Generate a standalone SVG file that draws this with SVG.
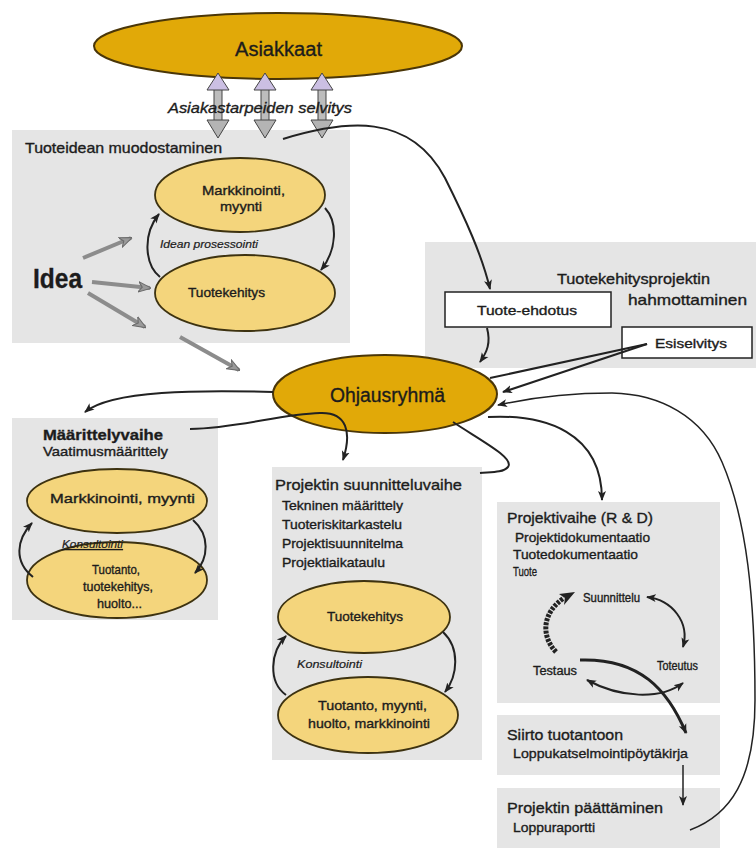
<svg xmlns="http://www.w3.org/2000/svg" width="756" height="848" viewBox="0 0 756 848">
  <style>
    text { font-family: "Liberation Sans", Arial, sans-serif; fill: #1c1c1c; stroke: #1c1c1c; stroke-width: 0.35; }
    .box { fill: #e5e5e5; }
    .wbox { fill: #ffffff; stroke: #222; stroke-width: 1.5; }
    .gold { fill: #e1a908; stroke: #4a3608; stroke-width: 2; }
    .pale { fill: #f4d57c; stroke: #3d3210; stroke-width: 1.8; }
    .t20 { font-size: 20px; }
    .t15 { font-size: 15px; }
    .t13 { font-size: 13px; }
    .t12 { font-size: 12px; }
    .it { font-size: 11px; font-style: italic; stroke-width: 0.2; }
    .ln { fill: none; stroke: #222; stroke-width: 2; }
    .thin { fill: none; stroke: #222; stroke-width: 1.5; }
    .gr { fill: none; stroke: #8c8c8c; stroke-width: 4; }
    .shaft { fill: #bdbdbd; stroke: #444; stroke-width: 1; }
    .headU { fill: #cbbfe3; stroke: #444; stroke-width: 1; }
    .headD { fill: #b4b4b4; stroke: #444; stroke-width: 1; }
  </style>
  <defs>
    <marker id="ah" viewBox="0 0 10 10" refX="9" refY="5" markerUnits="userSpaceOnUse" markerWidth="10" markerHeight="10" orient="auto-start-reverse">
      <path d="M0,1 L10,5 L0,9 L2.5,5 z" fill="#222"/>
    </marker>
    <marker id="ahg" viewBox="0 0 10 10" refX="9" refY="5" markerUnits="userSpaceOnUse" markerWidth="13" markerHeight="13" orient="auto">
      <path d="M0,1 L10,5 L0,9 L3,5 z" fill="#9a9a9a" stroke="#6a6a6a" stroke-width="0.8"/>
    </marker>
  </defs>

  <!-- customers -->
  <g id="asiakkaat">
    <ellipse class="gold" cx="278" cy="46" rx="184" ry="33"/>
    <text class="t20" x="235" y="56" textLength="87" lengthAdjust="spacingAndGlyphs">Asiakkaat</text>
  </g>

  <!-- idea formation stage -->
  <g id="tuoteidea">
    <rect class="box" x="12" y="130" width="338" height="213"/>
    <text class="t15" x="25" y="153" textLength="197" lengthAdjust="spacingAndGlyphs">Tuoteidean muodostaminen</text>
    <ellipse class="pale" cx="240" cy="195" rx="85" ry="37"/>
    <text class="t13" x="202" y="195" textLength="83" lengthAdjust="spacingAndGlyphs">Markkinointi,</text>
    <text class="t13" x="220" y="211" textLength="42" lengthAdjust="spacingAndGlyphs">myynti</text>
    <ellipse class="pale" cx="245" cy="293" rx="90" ry="38"/>
    <text class="t13" x="188" y="297" textLength="77" lengthAdjust="spacingAndGlyphs">Tuotekehitys</text>
    <text class="it" x="160" y="248" textLength="98" lengthAdjust="spacingAndGlyphs">Idean prosessointi</text>
    <text x="33" y="288" font-size="28" font-weight="bold" textLength="49" lengthAdjust="spacingAndGlyphs">Idea</text>
  </g>

  <!-- project outlining -->
  <g id="hahmottaminen">
    <rect class="box" x="425" y="242" width="331" height="126"/>
    <text class="t15" x="557" y="284" textLength="153" lengthAdjust="spacingAndGlyphs">Tuotekehitysprojektin</text>
    <text class="t15" x="628" y="305" textLength="119" lengthAdjust="spacingAndGlyphs">hahmottaminen</text>
  </g>
  <g id="tuote-ehdotus">
    <rect class="wbox" x="445" y="292" width="166" height="35"/>
    <text class="t13" x="477" y="315" textLength="100" lengthAdjust="spacingAndGlyphs">Tuote-ehdotus</text>
  </g>
  <g id="esiselvitys">
    <rect class="wbox" x="622" y="327" width="130" height="31"/>
    <text class="t13" x="655" y="348" textLength="72" lengthAdjust="spacingAndGlyphs">Esiselvitys</text>
  </g>

  <!-- steering group -->
  <g id="ohjausryhma">
    <ellipse class="gold" cx="385" cy="394" rx="112" ry="39"/>
    <text class="t20" x="330" y="402" textLength="115" lengthAdjust="spacingAndGlyphs">Ohjausryhmä</text>
  </g>

  <!-- definition stage -->
  <g id="maarittelyvaihe">
    <rect class="box" x="12" y="418" width="206" height="202"/>
    <text class="t15" x="43" y="440" font-weight="bold" textLength="120" lengthAdjust="spacingAndGlyphs">Määrittelyvaihe</text>
    <text class="t13" x="43" y="456" textLength="125" lengthAdjust="spacingAndGlyphs">Vaatimusmäärittely</text>
    <ellipse class="pale" cx="117" cy="501" rx="90" ry="32"/>
    <text class="t13" x="50" y="503" textLength="145" lengthAdjust="spacingAndGlyphs">Markkinointi, myynti</text>
    <ellipse class="pale" cx="117" cy="580" rx="90" ry="38"/>
    <text class="t13" x="92" y="574" textLength="48" lengthAdjust="spacingAndGlyphs">Tuotanto,</text>
    <text class="t13" x="83" y="591" textLength="70" lengthAdjust="spacingAndGlyphs">tuotekehitys,</text>
    <text class="t13" x="97" y="608" textLength="45" lengthAdjust="spacingAndGlyphs">huolto...</text>
    <text class="it" x="62" y="548" text-decoration="underline" textLength="61" lengthAdjust="spacingAndGlyphs">Konsultointi</text>
  </g>

  <!-- planning stage -->
  <g id="suunnitteluvaihe">
    <rect class="box" x="272" y="467" width="210" height="293"/>
    <text class="t15" x="275" y="490" textLength="187" lengthAdjust="spacingAndGlyphs">Projektin suunnitteluvaihe</text>
    <text class="t13" x="282" y="510" textLength="121" lengthAdjust="spacingAndGlyphs">Tekninen määrittely</text>
    <text class="t13" x="282" y="529" textLength="120" lengthAdjust="spacingAndGlyphs">Tuoteriskitarkastelu</text>
    <text class="t13" x="282" y="548" textLength="121" lengthAdjust="spacingAndGlyphs">Projektisuunnitelma</text>
    <text class="t13" x="282" y="567" textLength="103" lengthAdjust="spacingAndGlyphs">Projektiaikataulu</text>
    <ellipse class="pale" cx="364" cy="617" rx="86" ry="36"/>
    <text class="t13" x="327" y="621" textLength="76" lengthAdjust="spacingAndGlyphs">Tuotekehitys</text>
    <ellipse class="pale" cx="368" cy="715" rx="90" ry="38"/>
    <text class="t13" x="318" y="710" textLength="109" lengthAdjust="spacingAndGlyphs">Tuotanto, myynti,</text>
    <text class="t13" x="308" y="728" textLength="122" lengthAdjust="spacingAndGlyphs">huolto, markkinointi</text>
    <text class="it" x="297" y="668" textLength="65" lengthAdjust="spacingAndGlyphs">Konsultointi</text>
  </g>

  <!-- R&D stage -->
  <g id="projektivaihe">
    <rect class="box" x="497" y="502" width="223" height="201"/>
    <text class="t15" x="507" y="523" textLength="146" lengthAdjust="spacingAndGlyphs">Projektivaihe (R &amp; D)</text>
    <text class="t13" x="515" y="542" textLength="135" lengthAdjust="spacingAndGlyphs">Projektidokumentaatio</text>
    <text class="t13" x="513" y="559" textLength="125" lengthAdjust="spacingAndGlyphs">Tuotedokumentaatio</text>
    <text class="t13" x="513" y="576" textLength="24" lengthAdjust="spacingAndGlyphs">Tuote</text>
    <text class="t12" x="583" y="602" textLength="57" lengthAdjust="spacingAndGlyphs">Suunnittelu</text>
    <text class="t12" x="533" y="675" textLength="44" lengthAdjust="spacingAndGlyphs">Testaus</text>
    <text class="t12" x="657" y="670" textLength="41" lengthAdjust="spacingAndGlyphs">Toteutus</text>
  </g>

  <g id="siirto">
    <rect class="box" x="497" y="715" width="223" height="60"/>
    <text class="t15" x="507" y="740" textLength="116" lengthAdjust="spacingAndGlyphs">Siirto tuotantoon</text>
    <text class="t13" x="513" y="758" textLength="175" lengthAdjust="spacingAndGlyphs">Loppukatselmointipöytäkirja</text>
  </g>

  <g id="paattaminen">
    <rect class="box" x="497" y="788" width="223" height="60"/>
    <text class="t15" x="507" y="813" textLength="156" lengthAdjust="spacingAndGlyphs">Projektin päättäminen</text>
    <text class="t13" x="513" y="832" textLength="82" lengthAdjust="spacingAndGlyphs">Loppuraportti</text>
  </g>

  <g id="connectors">
    <!-- customer needs: double block arrows -->
    <g id="needs-arrows">
      <rect class="shaft" x="214" y="89" width="8" height="32"/>
      <path class="headU" d="M207,90 L218,73 L229,90 z"/>
      <path class="headD" d="M207,120 L218,138 L229,120 z"/>
      <rect class="shaft" x="261" y="89" width="8" height="32"/>
      <path class="headU" d="M254,90 L265,73 L276,90 z"/>
      <path class="headD" d="M254,120 L265,138 L276,120 z"/>
      <rect class="shaft" x="318" y="89" width="8" height="32"/>
      <path class="headU" d="M311,90 L322,73 L333,90 z"/>
      <path class="headD" d="M311,120 L322,138 L333,120 z"/>
    </g>
    <text x="168" y="113" font-size="15" font-style="italic" textLength="184" lengthAdjust="spacingAndGlyphs">Asiakastarpeiden selvitys</text>

    <!-- idea arrows -->
    <path class="gr" d="M83,258 L131,238" marker-end="url(#ahg)"/>
    <path class="gr" d="M92,282 L150,288" marker-end="url(#ahg)"/>
    <path class="gr" d="M88,293 L145,327" marker-end="url(#ahg)"/>
    <path class="gr" d="M180,337 L239,370" marker-end="url(#ahg)"/>

    <!-- idea processing loop -->
    <path class="ln" d="M160,277 C145,265 142,235 159,214" marker-end="url(#ah)"/>
    <path class="ln" d="M325,208 C338,222 337,250 321,270" marker-end="url(#ah)"/>

    <!-- idea to proposal -->
    <path class="ln" d="M283,139 C345,120 410,112 445,178 C465,218 482,255 490,289" marker-end="url(#ah)"/>
    <path class="ln" d="M487,328 C491,343 487,352 480,362" marker-end="url(#ah)"/>

    <!-- pre-study to steering group -->
    <path class="ln" d="M647,344 L490,378"/>
    <path class="ln" d="M647,344 L503,392" marker-end="url(#ah)"/>

    <!-- steering group outputs -->
    <path class="ln" d="M273,392 C200,390 112,390 85,412" marker-end="url(#ah)"/>
    <path class="ln" d="M190,429 C240,428 280,414 320,413 C347,412 352,432 343,460" marker-end="url(#ah)"/>
    <path class="ln" d="M453,422 C480,440 515,458 508,467 C503,473 490,472 480,473"/>
    <path class="ln" d="M488,417 C545,414 602,432 602,500" marker-end="url(#ah)"/>
    <path class="thin" d="M690,830 C730,815 755,780 755,700 C755,600 747,520 722,462 C702,416 660,394 612,393 C565,393 525,399 498,405" marker-end="url(#ah)"/>

    <!-- definition loop -->
    <path class="ln" d="M33,577 C14,562 16,540 32,523" marker-end="url(#ah)"/>
    <path class="ln" d="M193,520 C210,535 209,558 195,573" marker-end="url(#ah)"/>

    <!-- planning loop -->
    <path class="ln" d="M286,695 C268,682 270,652 286,636" marker-end="url(#ah)"/>
    <path class="ln" d="M443,632 C460,648 458,675 445,692" marker-end="url(#ah)"/>

    <!-- R&D cycle -->
    <path fill="none" stroke="#222" stroke-width="5" stroke-dasharray="3 1.2" d="M556,652 C540,635 543,612 564,598"/>
    <path fill="#222" d="M575,592 L559,594 L565,598 L564,605 z"/>
    <path class="ln" d="M647,597 C672,600 690,622 683,647" marker-start="url(#ah)" marker-end="url(#ah)"/>
    <path class="ln" d="M683,683 C660,700 620,698 587,680" marker-start="url(#ah)" marker-end="url(#ah)"/>
    <path fill="none" stroke="#222" stroke-width="3" d="M580,660 C640,658 668,690 686,733" marker-end="url(#ah)"/>
    <path class="thin" d="M683,765 L683,805" marker-end="url(#ah)"/>
  </g>
</svg>
